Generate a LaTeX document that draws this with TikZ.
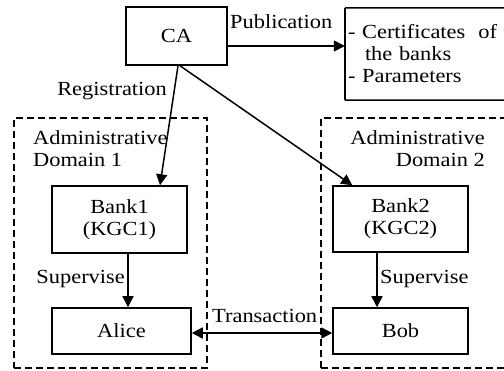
\documentclass[tikz,border=0pt]{standalone}
\usepackage{fontspec}
\setmainfont{Liberation Serif}[FakeStretch=1.12]
\usepackage{tikz}
\usetikzlibrary{positioning}
\usetikzlibrary{arrows.meta}

\begin{document}
\begin{tikzpicture}[x=1pt, y=-1pt, font=\fontsize{20}{22}\selectfont,
		box/.style={rectangle, draw=black, line width=1.5pt, inner sep=2pt, align=center},
		domainBox/.style={rectangle, draw=black, line width=1.4pt, dash pattern=on 7pt off 4pt},
		edgeLabel/.style={inner sep=0pt},
		arrowEdge/.style={-{Triangle[length=11pt,width=11pt]}, line width=1.5pt}]
		\useasboundingbox (0,0) rectangle (504,371);

		\node[domainBox, minimum width=193pt, minimum height=250pt](domOne) at (110.5,243){};
		\node[domainBox, minimum width=199pt, minimum height=250pt](domTwo) at (420.5,243){};

		\node[box, minimum width=101pt, minimum height=58pt](CA) at (176.5,36){CA};
		\node[rectangle, text width=149pt, inner xsep=3pt, minimum height=92pt, align=left](certBox) at (422.5,54){\makebox[149pt][s]{- Certificates\hfill of}\\\hspace*{17pt}the banks\\- Parameters};
		% certificate box runs off the right edge
		\coordinate (certTop) at (530,8);
		\coordinate (certBottom) at (530,100);
		\draw[line width=1.5pt] (certTop) -- (certBox.north west);
		\draw[line width=1.5pt] (certBox.north west) -- (certBox.south west);
		\draw[line width=1.5pt] (certBox.south west) -- (certBottom);

		\node[box, minimum width=135pt, minimum height=67pt](bankOne) at (119.5,219.5){Bank1\\(KGC1)};
		\node[box, minimum width=139pt, minimum height=46pt](alice) at (121.5,331){Alice};
		\node[box, minimum width=135pt, minimum height=66pt](bankTwo) at (400.5,219){Bank2\\(KGC2)};
		\node[box, minimum width=135pt, minimum height=46pt](bob) at (400.5,331){Bob};

		\node[edgeLabel, anchor=west, align=left](domOneLabel) at (33,149){Administrative\\Domain 1};
		\node[edgeLabel, anchor=east, align=right](domTwoLabel) at (485,149){Administrative\\Domain 2};

		% draw publication edge
		\draw[arrowEdge] ([yshift=-10pt]CA.east) -- ([yshift=-10pt]CA.east -| certBox.west);
		\node[edgeLabel, anchor=base west](pubLabel) at (230,29){Publication};

		% draw registration edges
		\draw[arrowEdge] ([xshift=1.5pt]CA.south) -- ([xshift=40.5pt]bankOne.north);
		\draw[arrowEdge] ([xshift=3.5pt]CA.south) -- ([xshift=20pt]bankTwo.north west);
		\node[edgeLabel, anchor=base east](regLabel) at (167,96){Registration};

		% draw supervise edges
		\draw[arrowEdge] ([xshift=8.5pt]bankOne.south) -- ([xshift=8.5pt]bankOne.south |- alice.north);
		\draw[arrowEdge] ([xshift=-23.5pt]bankTwo.south) -- ([xshift=-23.5pt]bankTwo.south |- bob.north);
		\node[edgeLabel, anchor=base east](supOneLabel) at (125,284){Supervise};
		\node[edgeLabel, anchor=base west](supTwoLabel) at (380,284){Supervise};

		% draw transaction edge
		\draw[arrowEdge, {Triangle[length=11pt,width=11pt]}-{Triangle[length=11pt,width=11pt]}] ([yshift=-2pt]alice.east) -- ([yshift=-2pt]alice.east -| bob.west);
		\node[edgeLabel, anchor=base west](transLabel) at (212,323){Transaction};

	\end{tikzpicture}
\end{document}
